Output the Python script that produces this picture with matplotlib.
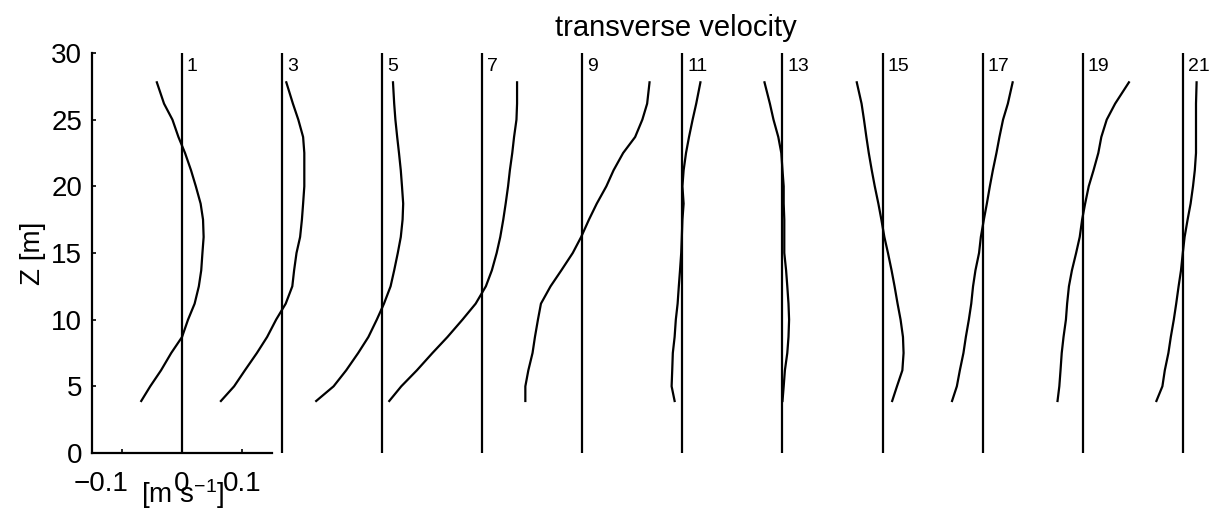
import numpy as np
import matplotlib
matplotlib.use('Agg')
import matplotlib.pyplot as plt
import matplotlib.transforms as mtransforms

plt.rcParams['font.family'] = ['Liberation Sans', 'DejaVu Sans']
plt.rcParams['mathtext.fontset'] = 'custom'
plt.rcParams['mathtext.rm'] = 'Liberation Sans'
plt.rcParams['mathtext.default'] = 'regular'

# depth levels [m] shared by all stations
z = [27.8, 26.2, 25.0, 23.7, 22.5, 21.2, 20.0, 18.7, 17.5, 16.2,
     15.0, 13.7, 12.5, 11.2, 10.0, 8.7, 7.5, 6.2, 5.0, 3.9]

stations = [1, 3, 5, 7, 9, 11, 13, 15, 17, 19, 21]

# transverse velocity profiles [m/s], top to bottom
u1 = [-0.042, -0.030, -0.016, -0.006, 0.005, 0.015, 0.023, 0.031, 0.035, 0.036,
      0.034, 0.032, 0.028, 0.021, 0.010, 0.000, -0.018, -0.035, -0.053, -0.068]
u3 = [0.007, 0.018, 0.027, 0.035, 0.037, 0.037, 0.037, 0.035, 0.033, 0.030,
      0.024, 0.020, 0.017, 0.006, -0.010, -0.025, -0.042, -0.062, -0.080, -0.102]
u5 = [0.018, 0.020, 0.022, 0.025, 0.028, 0.031, 0.033, 0.035, 0.034, 0.031,
      0.026, 0.020, 0.014, 0.003, -0.009, -0.023, -0.040, -0.060, -0.081, -0.110]
u7 = [0.058, 0.058, 0.057, 0.053, 0.050, 0.046, 0.043, 0.039, 0.035, 0.030,
      0.024, 0.016, 0.006, -0.011, -0.033, -0.058, -0.083, -0.109, -0.135, -0.155]
u9 = [0.112, 0.108, 0.100, 0.088, 0.068, 0.052, 0.040, 0.024, 0.011, -0.002,
      -0.016, -0.035, -0.053, -0.069, -0.074, -0.079, -0.083, -0.090, -0.095, -0.095]
u11 = [0.030, 0.023, 0.017, 0.011, 0.006, 0.002, 0.000, 0.002, 0.000, -0.001,
       -0.002, -0.004, -0.006, -0.008, -0.011, -0.013, -0.016, -0.017, -0.018, -0.013]
u13 = [-0.030, -0.021, -0.015, -0.007, -0.002, 0.000, 0.002, 0.002, 0.003, 0.003,
       0.003, 0.006, 0.008, 0.010, 0.011, 0.010, 0.008, 0.004, 0.002, 0.000]
u15 = [-0.043, -0.035, -0.031, -0.027, -0.023, -0.018, -0.013, -0.007, -0.002, 0.003,
       0.009, 0.015, 0.020, 0.025, 0.030, 0.034, 0.035, 0.033, 0.024, 0.016]
u17 = [0.050, 0.042, 0.034, 0.028, 0.023, 0.017, 0.012, 0.007, 0.002, -0.003,
       -0.006, -0.012, -0.016, -0.019, -0.023, -0.028, -0.032, -0.038, -0.043, -0.051]
u19 = [0.077, 0.054, 0.040, 0.031, 0.026, 0.018, 0.010, 0.004, -0.001, -0.005,
       -0.011, -0.018, -0.023, -0.026, -0.028, -0.032, -0.035, -0.037, -0.039, -0.042]
u21 = [0.023, 0.022, 0.022, 0.022, 0.022, 0.020, 0.017, 0.013, 0.008, 0.003,
       0.000, -0.003, -0.007, -0.011, -0.015, -0.020, -0.024, -0.030, -0.034, -0.044]

profiles = [u1, u3, u5, u7, u9, u11, u13, u15, u17, u19, u21]

xticks = [-0.1, 0, 0.1]
yticks = [0, 5, 10, 15, 20, 25, 30]

spacing = 0.1668   # horizontal shift between successive stations [m/s]

fig = plt.figure(figsize=(12.11, 5.19), dpi=100)
ax = fig.add_axes([0.076, 0.1272, 0.924, 0.7707])

for k, (st, u) in enumerate(zip(stations, profiles)):
    x0 = k * spacing
    ax.vlines(x0, 0, 30, color='k', lw=1.6, clip_on=False)
    ax.plot(x0 + np.asarray(u), z, color='k', lw=1.6, clip_on=False)
    ax.text(x0 + 0.008, 29.0, str(st), fontsize=14, ha='left', va='center')

ax.set_xlim(-0.15, -0.15 + 1119 / 600)
ax.set_ylim(0, 30)
ax.set_xticks(xticks)
ax.set_xticklabels(['\u22120.1', '0', '0.1'])
ax.set_yticks(yticks)
ax.tick_params(direction='in', length=3, width=1.2, labelsize=20)
ax.tick_params(axis='y', pad=7)
ax.tick_params(axis='x', pad=13)

# the negative label sits left of its tick
lab = ax.get_xticklabels()[0]
lab.set_horizontalalignment('right')
lab.set_transform(lab.get_transform() +
                  mtransforms.ScaledTranslation(6 / 100, 0, fig.dpi_scale_trans))

for side in ['top', 'right']:
    ax.spines[side].set_visible(False)
ax.spines['left'].set_linewidth(1.6)
ax.spines['bottom'].set_linewidth(1.6)
ax.spines['bottom'].set_bounds(-0.15, 0.15)

ax.set_ylabel('Z [m]', fontsize=20, labelpad=4)
ax.set_xlabel('[m s$^{-1}$]', fontsize=20)
ax.xaxis.set_label_coords(0.0813, -0.06)
ax.text(0.823, 31.9, 'transverse velocity', fontsize=21,
        ha='center', va='center', clip_on=False)

fig.savefig('out.png', dpi=100)
